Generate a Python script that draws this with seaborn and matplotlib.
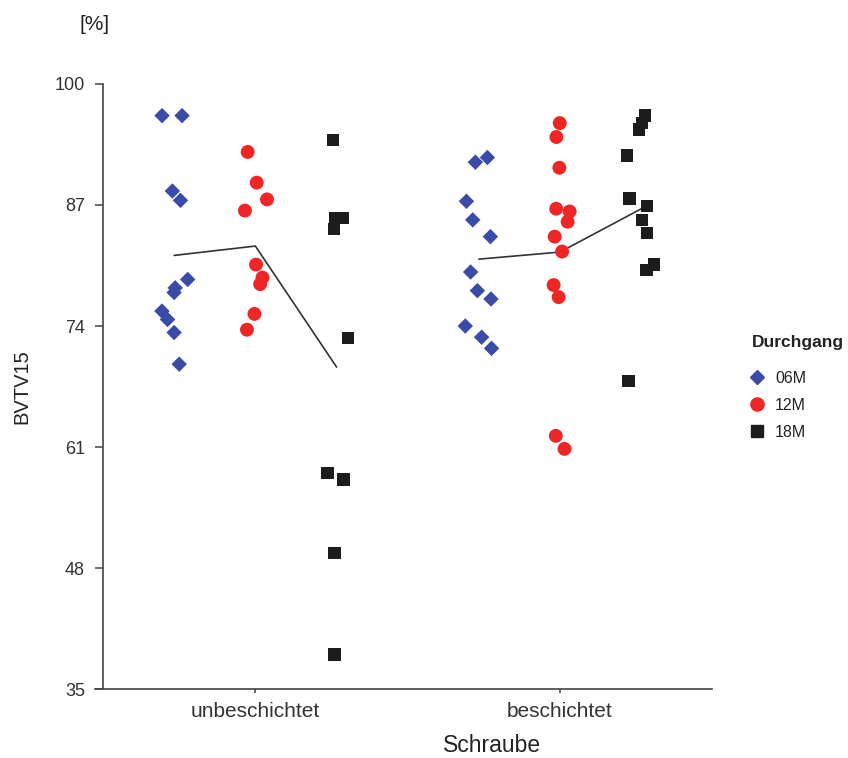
# BVTV15 by screw coating and follow-up (Durchgang)
# strip plot with group means connected inside each Schraube category

import numpy as np
import pandas as pd
import matplotlib
matplotlib.use("Agg")
import matplotlib.pyplot as plt
from matplotlib.lines import Line2D
import seaborn as sns

sns.set_style("ticks")
plt.rcParams["font.family"] = ["Liberation Sans", "DejaVu Sans"]
plt.rcParams["text.color"] = "#222222"
plt.rcParams["axes.labelcolor"] = "#222222"
plt.rcParams["xtick.color"] = "#444444"
plt.rcParams["ytick.color"] = "#444444"

# ---- data ----
schraube_order = ["unbeschichtet", "beschichtet"]
durchgang_order = ["06M", "12M", "18M"]

unbesch_06m = [96.6, 96.6, 88.5, 87.5, 79.0, 78.1, 77.6, 75.6, 74.7, 73.3, 69.9]
unbesch_12m = [92.7, 89.4, 87.6, 86.4, 80.6, 79.2, 78.5, 75.3, 73.6]
unbesch_18m = [94.0, 85.6, 85.6, 84.4, 72.7, 58.2, 57.5, 49.6, 38.7]

besch_06m = [92.1, 91.6, 87.4, 85.4, 83.6, 79.8, 77.8, 76.9, 74.0, 72.8, 71.6]
besch_12m = [95.8, 94.3, 91.0, 86.6, 86.3, 85.2, 83.6, 82.0, 78.4, 77.1, 62.2, 60.8]
besch_18m = [96.6, 95.8, 95.1, 92.3, 87.7, 86.9, 85.4, 84.0, 80.6, 80.0, 68.1]

yticks = [35, 48, 61, 74, 87, 100]

groups = {
    ("unbeschichtet", "06M"): unbesch_06m,
    ("unbeschichtet", "12M"): unbesch_12m,
    ("unbeschichtet", "18M"): unbesch_18m,
    ("beschichtet", "06M"): besch_06m,
    ("beschichtet", "12M"): besch_12m,
    ("beschichtet", "18M"): besch_18m,
}
rows = []
for (schraube, durchgang), values in groups.items():
    for v in values:
        rows.append({"Schraube": schraube, "Durchgang": durchgang, "BVTV15": v})
df = pd.DataFrame(rows)

# marker style per Durchgang
styles = {
    "06M": dict(color="#3B4BA8", marker="D", s=62),
    "12M": dict(color="#EE2626", marker="o", s=100),
    "18M": dict(color="#1C1C1C", marker="s", s=80),
}

fig = plt.figure(figsize=(8.48, 7.58), dpi=100)
ax = fig.add_axes([0.1215, 0.091, 0.7185, 0.7982])

np.random.seed(7)
for d in durchgang_order:
    sns.stripplot(
        data=df[df["Durchgang"] == d],
        x="Schraube",
        y="BVTV15",
        hue="Durchgang",
        order=schraube_order,
        hue_order=durchgang_order,
        palette={k: v["color"] for k, v in styles.items()},
        dodge=True,
        jitter=0.14,
        marker=styles[d]["marker"],
        s=np.sqrt(styles[d]["s"]),
        linewidth=0,
        legend=False,
        ax=ax,
        zorder=3,
    )

# mean line inside each category, at the same dodge offsets seaborn uses
offsets = np.linspace(-0.8 / 3, 0.8 / 3, 3)
means = df.groupby(["Schraube", "Durchgang"])["BVTV15"].mean()
for i, schraube in enumerate(schraube_order):
    ys = [means[(schraube, d)] for d in durchgang_order]
    ax.plot(i + offsets, ys, color="#333333", linewidth=1.2, zorder=2)

ax.set_xlim(-0.5, 1.5)
ax.set_ylim(35, 100)
ax.set_yticks(yticks)
ax.set_yticklabels([str(t) for t in yticks])

sns.despine(ax=ax)
for side in ["left", "bottom"]:
    ax.spines[side].set_color("#444444")
    ax.spines[side].set_linewidth(1.2)
ax.spines["bottom"].set_bounds(-0.527, 1.5)

ax.tick_params(axis="y", length=6, width=1.1, pad=7, labelsize=13, labelcolor="#333333")
ax.tick_params(axis="x", length=3, width=1.1, pad=6, labelsize=15, labelcolor="#333333")

ax.set_ylabel("BVTV15", fontsize=14.5)
ax.yaxis.set_label_coords(-0.118, 0.5)
ax.set_xlabel("Schraube", fontsize=16.5)
ax.xaxis.set_label_coords(0.639, -0.074)

fig.text(95 / 848, 1 - 25 / 758, "[%]", ha="center", va="center", fontsize=15)

# legend: bold title as its own text, entries below it
fig.text(752 / 848, 1 - 343 / 758, "Durchgang", ha="left", va="center",
         fontsize=12.5, fontweight="bold")
handles = [
    Line2D([], [], linestyle="none", marker=styles[d]["marker"], color=styles[d]["color"],
           markersize=np.sqrt(styles[d]["s"]) * 0.95, label=d)
    for d in durchgang_order
]
fig.legend(
    handles=handles,
    loc="upper left",
    bbox_to_anchor=(749 / 848, 1 - 371 / 758),
    frameon=False,
    fontsize=11.5,
    handlelength=1.0,
    handletextpad=0.62,
    labelspacing=0.75,
    borderpad=0,
    borderaxespad=0,
)

plt.savefig("out.png", dpi=100)
plt.close()
